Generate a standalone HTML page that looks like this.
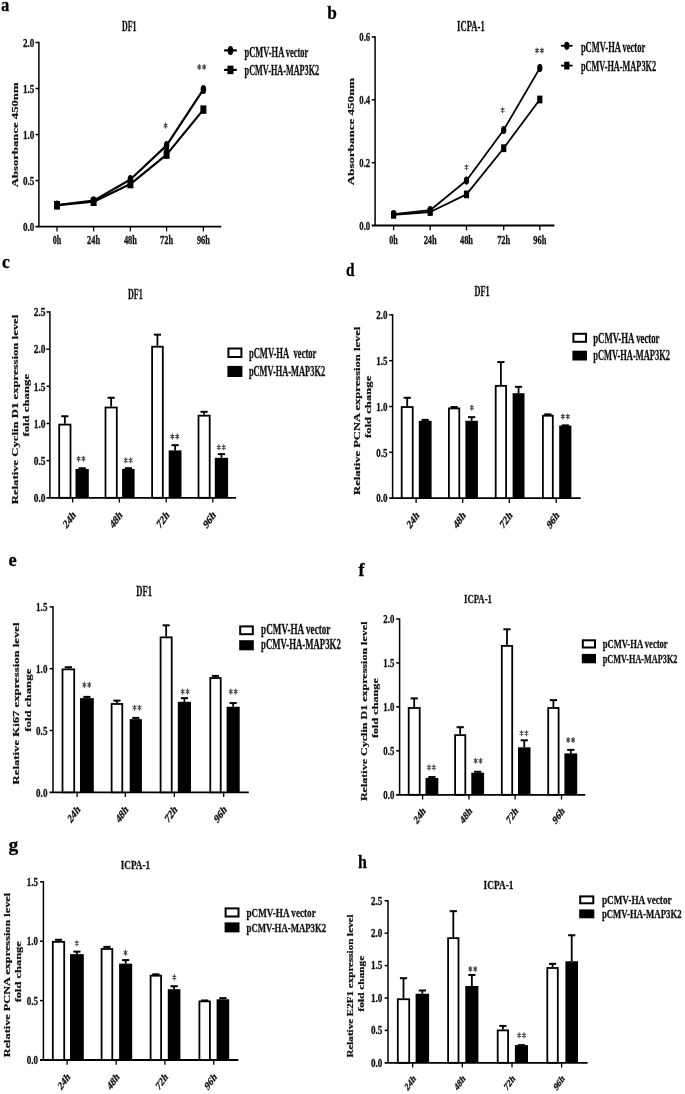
<!DOCTYPE html>
<html><head><meta charset="utf-8"><style>
html,body{margin:0;padding:0;background:#fff;}
svg{display:block;filter:grayscale(100%) blur(0.45px);}
text{font-family:"Liberation Serif", serif;font-weight:bold;stroke:#111;stroke-width:0.3px;}
</style></head><body>
<svg width="685" height="1094" viewBox="0 0 685 1094">
<rect width="685" height="1094" fill="#fff"/>
<line x1="38.90" y1="41.80" x2="38.90" y2="226.60" stroke="#000" stroke-width="1.5" stroke-linecap="butt"/>
<text x="22.90" y="230.92" font-size="13.2" text-anchor="start" fill="#111" textLength="11.40" lengthAdjust="spacingAndGlyphs">0.0</text>
<line x1="35.50" y1="180.57" x2="38.90" y2="180.57" stroke="#000" stroke-width="1.5" stroke-linecap="butt"/>
<text x="22.90" y="184.90" font-size="13.2" text-anchor="start" fill="#111" textLength="11.40" lengthAdjust="spacingAndGlyphs">0.5</text>
<line x1="35.50" y1="134.55" x2="38.90" y2="134.55" stroke="#000" stroke-width="1.5" stroke-linecap="butt"/>
<text x="22.90" y="138.87" font-size="13.2" text-anchor="start" fill="#111" textLength="11.40" lengthAdjust="spacingAndGlyphs">1.0</text>
<line x1="35.50" y1="88.53" x2="38.90" y2="88.53" stroke="#000" stroke-width="1.5" stroke-linecap="butt"/>
<text x="22.90" y="92.85" font-size="13.2" text-anchor="start" fill="#111" textLength="11.40" lengthAdjust="spacingAndGlyphs">1.5</text>
<line x1="35.50" y1="42.50" x2="38.90" y2="42.50" stroke="#000" stroke-width="1.5" stroke-linecap="butt"/>
<text x="22.90" y="46.82" font-size="13.2" text-anchor="start" fill="#111" textLength="11.40" lengthAdjust="spacingAndGlyphs">2.0</text>
<line x1="35.50" y1="226.60" x2="221.20" y2="226.60" stroke="#000" stroke-width="1.8" stroke-linecap="butt"/>
<line x1="57.00" y1="226.60" x2="57.00" y2="231.40" stroke="#000" stroke-width="1.3" stroke-linecap="butt"/>
<line x1="93.60" y1="226.60" x2="93.60" y2="231.40" stroke="#000" stroke-width="1.3" stroke-linecap="butt"/>
<line x1="130.40" y1="226.60" x2="130.40" y2="231.40" stroke="#000" stroke-width="1.3" stroke-linecap="butt"/>
<line x1="166.60" y1="226.60" x2="166.60" y2="231.40" stroke="#000" stroke-width="1.3" stroke-linecap="butt"/>
<line x1="203.40" y1="226.60" x2="203.40" y2="231.40" stroke="#000" stroke-width="1.3" stroke-linecap="butt"/>
<text x="52.75" y="244.30" font-size="12" text-anchor="start" fill="#111" textLength="8.50" lengthAdjust="spacingAndGlyphs">0h</text>
<text x="87.10" y="244.30" font-size="12" text-anchor="start" fill="#111" textLength="13.00" lengthAdjust="spacingAndGlyphs">24h</text>
<text x="123.90" y="244.30" font-size="12" text-anchor="start" fill="#111" textLength="13.00" lengthAdjust="spacingAndGlyphs">48h</text>
<text x="160.10" y="244.30" font-size="12" text-anchor="start" fill="#111" textLength="13.00" lengthAdjust="spacingAndGlyphs">72h</text>
<text x="196.90" y="244.30" font-size="12" text-anchor="start" fill="#111" textLength="13.00" lengthAdjust="spacingAndGlyphs">96h</text>
<polyline points="57.00,205.24 93.60,201.75 130.40,184.07 166.60,154.62 203.40,109.60" fill="none" stroke="#000" stroke-width="2.2" stroke-linejoin="round"/>
<polyline points="57.00,205.06 93.60,200.64 130.40,179.47 166.60,145.41 203.40,89.45" fill="none" stroke="#000" stroke-width="2.2" stroke-linejoin="round"/>
<rect x="54.00" y="200.99" width="6.00" height="8.50" fill="#000"/>
<rect x="90.60" y="197.50" width="6.00" height="8.50" fill="#000"/>
<rect x="127.40" y="179.82" width="6.00" height="8.50" fill="#000"/>
<rect x="163.60" y="150.37" width="6.00" height="8.50" fill="#000"/>
<rect x="200.40" y="105.35" width="6.00" height="8.50" fill="#000"/>
<ellipse cx="57.00" cy="205.06" rx="2.75" ry="4.50" fill="#000"/>
<ellipse cx="93.60" cy="200.64" rx="2.75" ry="4.50" fill="#000"/>
<ellipse cx="130.40" cy="179.47" rx="2.75" ry="4.50" fill="#000"/>
<ellipse cx="166.60" cy="145.41" rx="2.75" ry="4.50" fill="#000"/>
<ellipse cx="203.40" cy="89.45" rx="2.75" ry="4.50" fill="#000"/>
<rect x="164.40" y="145.41" width="4.40" height="9.20" fill="#000"/>
<line x1="224.10" y1="50.40" x2="236.80" y2="50.40" stroke="#000" stroke-width="2.2" stroke-linecap="butt"/>
<ellipse cx="230.45" cy="50.40" rx="2.75" ry="4.50" fill="#000"/>
<line x1="224.10" y1="69.90" x2="236.80" y2="69.90" stroke="#000" stroke-width="2.2" stroke-linecap="butt"/>
<rect x="227.45" y="65.65" width="6.00" height="8.50" fill="#000"/>
<text x="244.60" y="56.50" font-size="14.0" text-anchor="start" fill="#111" textLength="63.70" lengthAdjust="spacingAndGlyphs">pCMV-HA vector</text>
<text x="244.60" y="75.40" font-size="14.0" text-anchor="start" fill="#111" textLength="74.60" lengthAdjust="spacingAndGlyphs">pCMV-HA-MAP3K2</text>
<path d="M165.60,123.10L165.60,128.10M164.08,124.35L167.12,126.85M164.08,126.85L167.12,124.35" stroke="#4a4a4a" stroke-width="1.1" stroke-linecap="round" fill="none"/>
<path d="M199.25,64.50L199.25,69.50M197.73,65.75L200.77,68.25M197.73,68.25L200.77,65.75" stroke="#4a4a4a" stroke-width="1.1" stroke-linecap="round" fill="none"/>
<path d="M204.15,64.50L204.15,69.50M202.63,65.75L205.67,68.25M202.63,68.25L205.67,65.75" stroke="#4a4a4a" stroke-width="1.1" stroke-linecap="round" fill="none"/>
<text x="121.90" y="30.50" font-size="14.0" text-anchor="start" fill="#111" textLength="14.60" lengthAdjust="spacingAndGlyphs">DF1</text>
<text transform="translate(17.80,134.85) scale(0.68,1) rotate(-90)" font-size="12.65" text-anchor="middle" fill="#111" textLength="104.70" lengthAdjust="spacingAndGlyphs">Absorbance 450nm</text>
<text x="1.00" y="10.80" font-size="18" text-anchor="start" fill="#000" textLength="8.30" lengthAdjust="spacingAndGlyphs">a</text>
<line x1="375.10" y1="36.28" x2="375.10" y2="225.50" stroke="#000" stroke-width="1.5" stroke-linecap="butt"/>
<text x="359.30" y="229.91" font-size="13.463999999999999" text-anchor="start" fill="#111" textLength="10.90" lengthAdjust="spacingAndGlyphs">0.0</text>
<line x1="371.70" y1="162.66" x2="375.10" y2="162.66" stroke="#000" stroke-width="1.5" stroke-linecap="butt"/>
<text x="359.30" y="167.07" font-size="13.463999999999999" text-anchor="start" fill="#111" textLength="10.90" lengthAdjust="spacingAndGlyphs">0.2</text>
<line x1="371.70" y1="99.82" x2="375.10" y2="99.82" stroke="#000" stroke-width="1.5" stroke-linecap="butt"/>
<text x="359.30" y="104.23" font-size="13.463999999999999" text-anchor="start" fill="#111" textLength="10.90" lengthAdjust="spacingAndGlyphs">0.4</text>
<line x1="371.70" y1="36.98" x2="375.10" y2="36.98" stroke="#000" stroke-width="1.5" stroke-linecap="butt"/>
<text x="359.30" y="41.39" font-size="13.463999999999999" text-anchor="start" fill="#111" textLength="10.90" lengthAdjust="spacingAndGlyphs">0.6</text>
<line x1="371.70" y1="225.50" x2="554.50" y2="225.50" stroke="#000" stroke-width="1.8" stroke-linecap="butt"/>
<line x1="393.60" y1="225.50" x2="393.60" y2="230.30" stroke="#000" stroke-width="1.3" stroke-linecap="butt"/>
<line x1="430.20" y1="225.50" x2="430.20" y2="230.30" stroke="#000" stroke-width="1.3" stroke-linecap="butt"/>
<line x1="466.50" y1="225.50" x2="466.50" y2="230.30" stroke="#000" stroke-width="1.3" stroke-linecap="butt"/>
<line x1="503.70" y1="225.50" x2="503.70" y2="230.30" stroke="#000" stroke-width="1.3" stroke-linecap="butt"/>
<line x1="539.80" y1="225.50" x2="539.80" y2="230.30" stroke="#000" stroke-width="1.3" stroke-linecap="butt"/>
<text x="389.35" y="244.00" font-size="12" text-anchor="start" fill="#111" textLength="8.50" lengthAdjust="spacingAndGlyphs">0h</text>
<text x="423.70" y="244.00" font-size="12" text-anchor="start" fill="#111" textLength="13.00" lengthAdjust="spacingAndGlyphs">24h</text>
<text x="460.00" y="244.00" font-size="12" text-anchor="start" fill="#111" textLength="13.00" lengthAdjust="spacingAndGlyphs">48h</text>
<text x="497.20" y="244.00" font-size="12" text-anchor="start" fill="#111" textLength="13.00" lengthAdjust="spacingAndGlyphs">72h</text>
<text x="533.30" y="244.00" font-size="12" text-anchor="start" fill="#111" textLength="13.00" lengthAdjust="spacingAndGlyphs">96h</text>
<polyline points="393.60,214.82 430.20,211.99 466.50,194.39 503.70,148.21 539.80,99.51" fill="none" stroke="#000" stroke-width="1.8" stroke-linejoin="round"/>
<polyline points="393.60,214.19 430.20,210.20 466.50,180.57 503.70,129.98 539.80,68.09" fill="none" stroke="#000" stroke-width="1.8" stroke-linejoin="round"/>
<rect x="391.00" y="210.92" width="5.20" height="7.80" fill="#000"/>
<rect x="427.60" y="208.09" width="5.20" height="7.80" fill="#000"/>
<rect x="463.90" y="190.49" width="5.20" height="7.80" fill="#000"/>
<rect x="501.10" y="144.31" width="5.20" height="7.80" fill="#000"/>
<rect x="537.20" y="95.61" width="5.20" height="7.80" fill="#000"/>
<ellipse cx="393.60" cy="214.19" rx="2.65" ry="4.10" fill="#000"/>
<ellipse cx="430.20" cy="210.20" rx="2.65" ry="4.10" fill="#000"/>
<ellipse cx="466.50" cy="180.57" rx="2.65" ry="4.10" fill="#000"/>
<ellipse cx="503.70" cy="129.98" rx="2.65" ry="4.10" fill="#000"/>
<ellipse cx="539.80" cy="68.09" rx="2.65" ry="4.10" fill="#000"/>
<line x1="561.00" y1="45.80" x2="572.60" y2="45.80" stroke="#000" stroke-width="1.8" stroke-linecap="butt"/>
<ellipse cx="566.80" cy="45.80" rx="2.65" ry="4.10" fill="#000"/>
<line x1="561.00" y1="65.60" x2="572.60" y2="65.60" stroke="#000" stroke-width="1.8" stroke-linecap="butt"/>
<rect x="564.20" y="61.70" width="5.20" height="7.80" fill="#000"/>
<text x="580.90" y="51.60" font-size="14.280000000000001" text-anchor="start" fill="#111" textLength="64.30" lengthAdjust="spacingAndGlyphs">pCMV-HA vector</text>
<text x="580.90" y="71.00" font-size="14.280000000000001" text-anchor="start" fill="#111" textLength="75.20" lengthAdjust="spacingAndGlyphs">pCMV-HA-MAP3K2</text>
<path d="M466.50,164.70L466.50,169.70M464.98,165.95L468.02,168.45M464.98,168.45L468.02,165.95" stroke="#4a4a4a" stroke-width="1.1" stroke-linecap="round" fill="none"/>
<path d="M502.60,107.60L502.60,112.60M501.08,108.85L504.12,111.35M501.08,111.35L504.12,108.85" stroke="#4a4a4a" stroke-width="1.1" stroke-linecap="round" fill="none"/>
<path d="M537.05,48.00L537.05,53.00M535.53,49.25L538.57,51.75M535.53,51.75L538.57,49.25" stroke="#4a4a4a" stroke-width="1.1" stroke-linecap="round" fill="none"/>
<path d="M541.95,48.00L541.95,53.00M540.43,49.25L543.47,51.75M540.43,51.75L543.47,49.25" stroke="#4a4a4a" stroke-width="1.1" stroke-linecap="round" fill="none"/>
<text x="457.10" y="31.00" font-size="14.280000000000001" text-anchor="start" fill="#111" textLength="27.60" lengthAdjust="spacingAndGlyphs">ICPA-1</text>
<text transform="translate(354.10,131.50) scale(0.68,1) rotate(-90)" font-size="12.90" text-anchor="middle" fill="#111" textLength="107.40" lengthAdjust="spacingAndGlyphs">Absorbance 450nm</text>
<text x="327.30" y="19.00" font-size="18" text-anchor="start" fill="#000" textLength="9.60" lengthAdjust="spacingAndGlyphs">b</text>
<line x1="49.90" y1="311.30" x2="49.90" y2="497.80" stroke="#000" stroke-width="1.5" stroke-linecap="butt"/>
<text x="33.70" y="502.12" font-size="13.2" text-anchor="start" fill="#111" textLength="11.80" lengthAdjust="spacingAndGlyphs">0.0</text>
<line x1="46.50" y1="460.64" x2="49.90" y2="460.64" stroke="#000" stroke-width="1.5" stroke-linecap="butt"/>
<text x="33.70" y="464.96" font-size="13.2" text-anchor="start" fill="#111" textLength="11.80" lengthAdjust="spacingAndGlyphs">0.5</text>
<line x1="46.50" y1="423.48" x2="49.90" y2="423.48" stroke="#000" stroke-width="1.5" stroke-linecap="butt"/>
<text x="33.70" y="427.80" font-size="13.2" text-anchor="start" fill="#111" textLength="11.80" lengthAdjust="spacingAndGlyphs">1.0</text>
<line x1="46.50" y1="386.32" x2="49.90" y2="386.32" stroke="#000" stroke-width="1.5" stroke-linecap="butt"/>
<text x="33.70" y="390.64" font-size="13.2" text-anchor="start" fill="#111" textLength="11.80" lengthAdjust="spacingAndGlyphs">1.5</text>
<line x1="46.50" y1="349.16" x2="49.90" y2="349.16" stroke="#000" stroke-width="1.5" stroke-linecap="butt"/>
<text x="33.70" y="353.48" font-size="13.2" text-anchor="start" fill="#111" textLength="11.80" lengthAdjust="spacingAndGlyphs">2.0</text>
<line x1="46.50" y1="312.00" x2="49.90" y2="312.00" stroke="#000" stroke-width="1.5" stroke-linecap="butt"/>
<text x="33.70" y="316.32" font-size="13.2" text-anchor="start" fill="#111" textLength="11.80" lengthAdjust="spacingAndGlyphs">2.5</text>
<line x1="46.50" y1="497.80" x2="236.10" y2="497.80" stroke="#000" stroke-width="1.8" stroke-linecap="butt"/>
<line x1="72.70" y1="497.80" x2="72.70" y2="502.60" stroke="#000" stroke-width="1.3" stroke-linecap="butt"/>
<line x1="119.30" y1="497.80" x2="119.30" y2="502.60" stroke="#000" stroke-width="1.3" stroke-linecap="butt"/>
<line x1="166.20" y1="497.80" x2="166.20" y2="502.60" stroke="#000" stroke-width="1.3" stroke-linecap="butt"/>
<line x1="212.80" y1="497.80" x2="212.80" y2="502.60" stroke="#000" stroke-width="1.3" stroke-linecap="butt"/>
<line x1="64.85" y1="423.70" x2="64.85" y2="416.27" stroke="#000" stroke-width="1.8" stroke-linecap="butt"/>
<line x1="61.25" y1="416.27" x2="68.45" y2="416.27" stroke="#000" stroke-width="2.0" stroke-linecap="butt"/>
<line x1="82.15" y1="468.96" x2="82.15" y2="468.22" stroke="#000" stroke-width="1.8" stroke-linecap="butt"/>
<line x1="78.55" y1="468.22" x2="85.75" y2="468.22" stroke="#000" stroke-width="2.0" stroke-linecap="butt"/>
<rect x="59.20" y="424.60" width="11.30" height="73.20" fill="#fff" stroke="#000" stroke-width="1.8"/>
<rect x="75.50" y="468.96" width="13.30" height="28.84" fill="#000"/>
<line x1="111.15" y1="406.61" x2="111.15" y2="397.77" stroke="#000" stroke-width="1.8" stroke-linecap="butt"/>
<line x1="107.55" y1="397.77" x2="114.75" y2="397.77" stroke="#000" stroke-width="2.0" stroke-linecap="butt"/>
<line x1="128.35" y1="468.96" x2="128.35" y2="468.22" stroke="#000" stroke-width="1.8" stroke-linecap="butt"/>
<line x1="124.75" y1="468.22" x2="131.95" y2="468.22" stroke="#000" stroke-width="2.0" stroke-linecap="butt"/>
<rect x="105.50" y="407.51" width="11.30" height="90.29" fill="#fff" stroke="#000" stroke-width="1.8"/>
<rect x="122.10" y="468.96" width="12.50" height="28.84" fill="#000"/>
<line x1="157.45" y1="345.82" x2="157.45" y2="334.67" stroke="#000" stroke-width="1.8" stroke-linecap="butt"/>
<line x1="153.85" y1="334.67" x2="161.05" y2="334.67" stroke="#000" stroke-width="2.0" stroke-linecap="butt"/>
<line x1="175.10" y1="450.38" x2="175.10" y2="445.18" stroke="#000" stroke-width="1.8" stroke-linecap="butt"/>
<line x1="171.50" y1="445.18" x2="178.70" y2="445.18" stroke="#000" stroke-width="2.0" stroke-linecap="butt"/>
<rect x="152.10" y="346.72" width="10.70" height="151.08" fill="#fff" stroke="#000" stroke-width="1.8"/>
<rect x="168.70" y="450.38" width="12.80" height="47.42" fill="#000"/>
<line x1="204.10" y1="414.78" x2="204.10" y2="411.81" stroke="#000" stroke-width="1.8" stroke-linecap="butt"/>
<line x1="200.50" y1="411.81" x2="207.70" y2="411.81" stroke="#000" stroke-width="2.0" stroke-linecap="butt"/>
<line x1="221.45" y1="457.82" x2="221.45" y2="454.10" stroke="#000" stroke-width="1.8" stroke-linecap="butt"/>
<line x1="217.85" y1="454.10" x2="225.05" y2="454.10" stroke="#000" stroke-width="2.0" stroke-linecap="butt"/>
<rect x="198.50" y="415.68" width="11.20" height="82.12" fill="#fff" stroke="#000" stroke-width="1.8"/>
<rect x="214.80" y="457.82" width="13.30" height="39.98" fill="#000"/>
<text transform="translate(76.20,515.60) scale(0.7,1) rotate(-45)" font-size="12.5" text-anchor="end" fill="#111">24h</text>
<text transform="translate(122.80,515.60) scale(0.7,1) rotate(-45)" font-size="12.5" text-anchor="end" fill="#111">48h</text>
<text transform="translate(169.70,515.60) scale(0.7,1) rotate(-45)" font-size="12.5" text-anchor="end" fill="#111">72h</text>
<text transform="translate(216.30,515.60) scale(0.7,1) rotate(-45)" font-size="12.5" text-anchor="end" fill="#111">96h</text>
<path d="M78.55,456.20L78.55,461.20M77.03,457.45L80.07,459.95M77.03,459.95L80.07,457.45" stroke="#4a4a4a" stroke-width="1.1" stroke-linecap="round" fill="none"/>
<path d="M83.45,456.20L83.45,461.20M81.93,457.45L84.97,459.95M81.93,459.95L84.97,457.45" stroke="#4a4a4a" stroke-width="1.1" stroke-linecap="round" fill="none"/>
<path d="M125.75,457.80L125.75,462.80M124.23,459.05L127.27,461.55M124.23,461.55L127.27,459.05" stroke="#4a4a4a" stroke-width="1.1" stroke-linecap="round" fill="none"/>
<path d="M130.65,457.80L130.65,462.80M129.13,459.05L132.17,461.55M129.13,461.55L132.17,459.05" stroke="#4a4a4a" stroke-width="1.1" stroke-linecap="round" fill="none"/>
<path d="M172.35,434.00L172.35,439.00M170.83,435.25L173.87,437.75M170.83,437.75L173.87,435.25" stroke="#4a4a4a" stroke-width="1.1" stroke-linecap="round" fill="none"/>
<path d="M177.25,434.00L177.25,439.00M175.73,435.25L178.77,437.75M175.73,437.75L178.77,435.25" stroke="#4a4a4a" stroke-width="1.1" stroke-linecap="round" fill="none"/>
<path d="M218.85,444.80L218.85,449.80M217.33,446.05L220.37,448.55M217.33,448.55L220.37,446.05" stroke="#4a4a4a" stroke-width="1.1" stroke-linecap="round" fill="none"/>
<path d="M223.75,444.80L223.75,449.80M222.23,446.05L225.27,448.55M222.23,448.55L225.27,446.05" stroke="#4a4a4a" stroke-width="1.1" stroke-linecap="round" fill="none"/>
<text x="127.90" y="298.80" font-size="14.0" text-anchor="start" fill="#111" textLength="14.80" lengthAdjust="spacingAndGlyphs">DF1</text>
<rect x="228.40" y="348.50" width="13.00" height="8.50" fill="#fff" stroke="#000" stroke-width="2"/>
<rect x="227.40" y="365.90" width="15.00" height="11.10" fill="#000"/>
<text x="248.90" y="357.70" font-size="14.0" text-anchor="start" fill="#111" textLength="67.50" lengthAdjust="spacingAndGlyphs">pCMV-HA&#160; vector</text>
<text x="248.90" y="376.40" font-size="14.0" text-anchor="start" fill="#111" textLength="76.20" lengthAdjust="spacingAndGlyphs">pCMV-HA-MAP3K2</text>
<text transform="translate(18.00,409.50) scale(0.68,1) rotate(-90)" font-size="12.65" text-anchor="middle" fill="#111" textLength="189.60" lengthAdjust="spacingAndGlyphs">Relative Cyclin D1 expression level</text>
<text transform="translate(29.00,405.25) scale(0.68,1) rotate(-90)" font-size="12.65" text-anchor="middle" fill="#111" textLength="62.70" lengthAdjust="spacingAndGlyphs">fold change</text>
<text x="1.90" y="268.00" font-size="18" text-anchor="start" fill="#000" textLength="7.80" lengthAdjust="spacingAndGlyphs">c</text>
<line x1="392.60" y1="314.20" x2="392.60" y2="498.10" stroke="#000" stroke-width="1.5" stroke-linecap="butt"/>
<text x="376.30" y="502.36" font-size="13.001999999999999" text-anchor="start" fill="#111" textLength="11.20" lengthAdjust="spacingAndGlyphs">0.0</text>
<line x1="389.20" y1="452.30" x2="392.60" y2="452.30" stroke="#000" stroke-width="1.5" stroke-linecap="butt"/>
<text x="376.30" y="456.56" font-size="13.001999999999999" text-anchor="start" fill="#111" textLength="11.20" lengthAdjust="spacingAndGlyphs">0.5</text>
<line x1="389.20" y1="406.50" x2="392.60" y2="406.50" stroke="#000" stroke-width="1.5" stroke-linecap="butt"/>
<text x="376.30" y="410.76" font-size="13.001999999999999" text-anchor="start" fill="#111" textLength="11.20" lengthAdjust="spacingAndGlyphs">1.0</text>
<line x1="389.20" y1="360.70" x2="392.60" y2="360.70" stroke="#000" stroke-width="1.5" stroke-linecap="butt"/>
<text x="376.30" y="364.96" font-size="13.001999999999999" text-anchor="start" fill="#111" textLength="11.20" lengthAdjust="spacingAndGlyphs">1.5</text>
<line x1="389.20" y1="314.90" x2="392.60" y2="314.90" stroke="#000" stroke-width="1.5" stroke-linecap="butt"/>
<text x="376.30" y="319.16" font-size="13.001999999999999" text-anchor="start" fill="#111" textLength="11.20" lengthAdjust="spacingAndGlyphs">2.0</text>
<line x1="389.20" y1="498.10" x2="580.70" y2="498.10" stroke="#000" stroke-width="1.8" stroke-linecap="butt"/>
<line x1="416.10" y1="498.10" x2="416.10" y2="502.90" stroke="#000" stroke-width="1.3" stroke-linecap="butt"/>
<line x1="462.70" y1="498.10" x2="462.70" y2="502.90" stroke="#000" stroke-width="1.3" stroke-linecap="butt"/>
<line x1="509.30" y1="498.10" x2="509.30" y2="502.90" stroke="#000" stroke-width="1.3" stroke-linecap="butt"/>
<line x1="556.20" y1="498.10" x2="556.20" y2="502.90" stroke="#000" stroke-width="1.3" stroke-linecap="butt"/>
<line x1="407.20" y1="406.13" x2="407.20" y2="397.80" stroke="#000" stroke-width="1.8" stroke-linecap="butt"/>
<line x1="403.60" y1="397.80" x2="410.80" y2="397.80" stroke="#000" stroke-width="2.0" stroke-linecap="butt"/>
<line x1="425.20" y1="420.79" x2="425.20" y2="419.87" stroke="#000" stroke-width="1.8" stroke-linecap="butt"/>
<line x1="421.60" y1="419.87" x2="428.80" y2="419.87" stroke="#000" stroke-width="2.0" stroke-linecap="butt"/>
<rect x="401.70" y="407.03" width="11.00" height="91.07" fill="#fff" stroke="#000" stroke-width="1.8"/>
<rect x="418.80" y="420.79" width="12.80" height="77.31" fill="#000"/>
<line x1="450.50" y1="407.05" x2="457.70" y2="407.05" stroke="#000" stroke-width="2.0" stroke-linecap="butt"/>
<line x1="471.65" y1="420.79" x2="471.65" y2="417.13" stroke="#000" stroke-width="1.8" stroke-linecap="butt"/>
<line x1="468.05" y1="417.13" x2="475.25" y2="417.13" stroke="#000" stroke-width="2.0" stroke-linecap="butt"/>
<rect x="448.90" y="408.41" width="10.40" height="89.69" fill="#fff" stroke="#000" stroke-width="1.8"/>
<rect x="465.40" y="420.79" width="12.50" height="77.31" fill="#000"/>
<line x1="500.90" y1="384.97" x2="500.90" y2="362.07" stroke="#000" stroke-width="1.8" stroke-linecap="butt"/>
<line x1="497.30" y1="362.07" x2="504.50" y2="362.07" stroke="#000" stroke-width="2.0" stroke-linecap="butt"/>
<line x1="518.55" y1="393.22" x2="518.55" y2="386.81" stroke="#000" stroke-width="1.8" stroke-linecap="butt"/>
<line x1="514.95" y1="386.81" x2="522.15" y2="386.81" stroke="#000" stroke-width="2.0" stroke-linecap="butt"/>
<rect x="495.70" y="385.87" width="10.40" height="112.23" fill="#fff" stroke="#000" stroke-width="1.8"/>
<rect x="512.60" y="393.22" width="11.90" height="104.88" fill="#000"/>
<line x1="544.25" y1="414.38" x2="551.45" y2="414.38" stroke="#000" stroke-width="2.0" stroke-linecap="butt"/>
<line x1="561.70" y1="425.37" x2="568.90" y2="425.37" stroke="#000" stroke-width="2.0" stroke-linecap="butt"/>
<rect x="542.90" y="415.74" width="9.90" height="82.36" fill="#fff" stroke="#000" stroke-width="1.8"/>
<rect x="559.20" y="425.55" width="12.20" height="72.55" fill="#000"/>
<text transform="translate(419.60,516.00) scale(0.7,1) rotate(-45)" font-size="12.3125" text-anchor="end" fill="#111">24h</text>
<text transform="translate(466.20,516.00) scale(0.7,1) rotate(-45)" font-size="12.3125" text-anchor="end" fill="#111">48h</text>
<text transform="translate(512.80,516.00) scale(0.7,1) rotate(-45)" font-size="12.3125" text-anchor="end" fill="#111">72h</text>
<text transform="translate(559.70,516.00) scale(0.7,1) rotate(-45)" font-size="12.3125" text-anchor="end" fill="#111">96h</text>
<path d="M471.80,405.10L471.80,410.10M470.28,406.35L473.32,408.85M470.28,408.85L473.32,406.35" stroke="#4a4a4a" stroke-width="1.1" stroke-linecap="round" fill="none"/>
<path d="M562.85,414.00L562.85,419.00M561.33,415.25L564.37,417.75M561.33,417.75L564.37,415.25" stroke="#4a4a4a" stroke-width="1.1" stroke-linecap="round" fill="none"/>
<path d="M567.75,414.00L567.75,419.00M566.23,415.25L569.27,417.75M566.23,417.75L569.27,415.25" stroke="#4a4a4a" stroke-width="1.1" stroke-linecap="round" fill="none"/>
<text x="474.50" y="295.50" font-size="13.79" text-anchor="start" fill="#111" textLength="15.10" lengthAdjust="spacingAndGlyphs">DF1</text>
<rect x="573.40" y="333.80" width="12.60" height="8.00" fill="#fff" stroke="#000" stroke-width="2"/>
<rect x="572.40" y="350.70" width="14.60" height="9.80" fill="#000"/>
<text x="593.20" y="342.80" font-size="13.79" text-anchor="start" fill="#111" textLength="66.30" lengthAdjust="spacingAndGlyphs">pCMV-HA vector</text>
<text x="593.20" y="360.10" font-size="13.79" text-anchor="start" fill="#111" textLength="76.80" lengthAdjust="spacingAndGlyphs">pCMV-HA-MAP3K2</text>
<text transform="translate(360.00,410.80) scale(0.68,1) rotate(-90)" font-size="12.46" text-anchor="middle" fill="#111" textLength="168.20" lengthAdjust="spacingAndGlyphs">Relative PCNA expression level</text>
<text transform="translate(370.70,406.90) scale(0.68,1) rotate(-90)" font-size="12.46" text-anchor="middle" fill="#111" textLength="62.40" lengthAdjust="spacingAndGlyphs">fold change</text>
<text x="345.90" y="276.00" font-size="18" text-anchor="start" fill="#000" textLength="8.50" lengthAdjust="spacingAndGlyphs">d</text>
<line x1="53.00" y1="606.20" x2="53.00" y2="792.30" stroke="#000" stroke-width="1.5" stroke-linecap="butt"/>
<text x="36.10" y="796.62" font-size="13.2" text-anchor="start" fill="#111" textLength="11.30" lengthAdjust="spacingAndGlyphs">0.0</text>
<line x1="49.60" y1="730.50" x2="53.00" y2="730.50" stroke="#000" stroke-width="1.5" stroke-linecap="butt"/>
<text x="36.10" y="734.82" font-size="13.2" text-anchor="start" fill="#111" textLength="11.30" lengthAdjust="spacingAndGlyphs">0.5</text>
<line x1="49.60" y1="668.70" x2="53.00" y2="668.70" stroke="#000" stroke-width="1.5" stroke-linecap="butt"/>
<text x="36.10" y="673.02" font-size="13.2" text-anchor="start" fill="#111" textLength="11.30" lengthAdjust="spacingAndGlyphs">1.0</text>
<line x1="49.60" y1="606.90" x2="53.00" y2="606.90" stroke="#000" stroke-width="1.5" stroke-linecap="butt"/>
<text x="36.10" y="611.22" font-size="13.2" text-anchor="start" fill="#111" textLength="11.30" lengthAdjust="spacingAndGlyphs">1.5</text>
<line x1="49.60" y1="792.30" x2="248.80" y2="792.30" stroke="#000" stroke-width="1.8" stroke-linecap="butt"/>
<line x1="77.10" y1="792.30" x2="77.10" y2="797.10" stroke="#000" stroke-width="1.3" stroke-linecap="butt"/>
<line x1="125.30" y1="792.30" x2="125.30" y2="797.10" stroke="#000" stroke-width="1.3" stroke-linecap="butt"/>
<line x1="174.30" y1="792.30" x2="174.30" y2="797.10" stroke="#000" stroke-width="1.3" stroke-linecap="butt"/>
<line x1="223.70" y1="792.30" x2="223.70" y2="797.10" stroke="#000" stroke-width="1.3" stroke-linecap="butt"/>
<line x1="68.35" y1="668.45" x2="68.35" y2="667.22" stroke="#000" stroke-width="1.8" stroke-linecap="butt"/>
<line x1="64.75" y1="667.22" x2="71.95" y2="667.22" stroke="#000" stroke-width="2.0" stroke-linecap="butt"/>
<line x1="86.90" y1="698.12" x2="86.90" y2="696.88" stroke="#000" stroke-width="1.8" stroke-linecap="butt"/>
<line x1="83.30" y1="696.88" x2="90.50" y2="696.88" stroke="#000" stroke-width="2.0" stroke-linecap="butt"/>
<rect x="62.50" y="669.35" width="11.70" height="122.95" fill="#fff" stroke="#000" stroke-width="1.8"/>
<rect x="80.00" y="698.12" width="13.80" height="94.18" fill="#000"/>
<line x1="116.95" y1="703.06" x2="116.95" y2="700.59" stroke="#000" stroke-width="1.8" stroke-linecap="butt"/>
<line x1="113.35" y1="700.59" x2="120.55" y2="700.59" stroke="#000" stroke-width="2.0" stroke-linecap="butt"/>
<line x1="135.80" y1="719.13" x2="135.80" y2="717.89" stroke="#000" stroke-width="1.8" stroke-linecap="butt"/>
<line x1="132.20" y1="717.89" x2="139.40" y2="717.89" stroke="#000" stroke-width="2.0" stroke-linecap="butt"/>
<rect x="111.60" y="703.96" width="10.70" height="88.34" fill="#fff" stroke="#000" stroke-width="1.8"/>
<rect x="129.70" y="719.13" width="12.20" height="73.17" fill="#000"/>
<line x1="166.15" y1="636.44" x2="166.15" y2="625.32" stroke="#000" stroke-width="1.8" stroke-linecap="butt"/>
<line x1="162.55" y1="625.32" x2="169.75" y2="625.32" stroke="#000" stroke-width="2.0" stroke-linecap="butt"/>
<line x1="184.40" y1="701.82" x2="184.40" y2="698.12" stroke="#000" stroke-width="1.8" stroke-linecap="butt"/>
<line x1="180.80" y1="698.12" x2="188.00" y2="698.12" stroke="#000" stroke-width="2.0" stroke-linecap="butt"/>
<rect x="160.60" y="637.34" width="11.10" height="154.96" fill="#fff" stroke="#000" stroke-width="1.8"/>
<rect x="177.80" y="701.82" width="13.20" height="90.48" fill="#000"/>
<line x1="215.50" y1="677.10" x2="215.50" y2="675.87" stroke="#000" stroke-width="1.8" stroke-linecap="butt"/>
<line x1="211.90" y1="675.87" x2="219.10" y2="675.87" stroke="#000" stroke-width="2.0" stroke-linecap="butt"/>
<line x1="233.15" y1="706.77" x2="233.15" y2="703.06" stroke="#000" stroke-width="1.8" stroke-linecap="butt"/>
<line x1="229.55" y1="703.06" x2="236.75" y2="703.06" stroke="#000" stroke-width="2.0" stroke-linecap="butt"/>
<rect x="210.30" y="678.00" width="10.40" height="114.30" fill="#fff" stroke="#000" stroke-width="1.8"/>
<rect x="226.60" y="706.77" width="13.10" height="85.53" fill="#000"/>
<text transform="translate(80.60,810.10) scale(0.7,1) rotate(-45)" font-size="12.5" text-anchor="end" fill="#111">24h</text>
<text transform="translate(128.80,810.10) scale(0.7,1) rotate(-45)" font-size="12.5" text-anchor="end" fill="#111">48h</text>
<text transform="translate(177.80,810.10) scale(0.7,1) rotate(-45)" font-size="12.5" text-anchor="end" fill="#111">72h</text>
<text transform="translate(227.20,810.10) scale(0.7,1) rotate(-45)" font-size="12.5" text-anchor="end" fill="#111">96h</text>
<path d="M84.35,682.40L84.35,687.40M82.83,683.65L85.87,686.15M82.83,686.15L85.87,683.65" stroke="#4a4a4a" stroke-width="1.1" stroke-linecap="round" fill="none"/>
<path d="M89.25,682.40L89.25,687.40M87.73,683.65L90.77,686.15M87.73,686.15L90.77,683.65" stroke="#4a4a4a" stroke-width="1.1" stroke-linecap="round" fill="none"/>
<path d="M134.55,705.20L134.55,710.20M133.03,706.45L136.07,708.95M133.03,708.95L136.07,706.45" stroke="#4a4a4a" stroke-width="1.1" stroke-linecap="round" fill="none"/>
<path d="M139.45,705.20L139.45,710.20M137.93,706.45L140.97,708.95M137.93,708.95L140.97,706.45" stroke="#4a4a4a" stroke-width="1.1" stroke-linecap="round" fill="none"/>
<path d="M182.65,689.10L182.65,694.10M181.13,690.35L184.17,692.85M181.13,692.85L184.17,690.35" stroke="#4a4a4a" stroke-width="1.1" stroke-linecap="round" fill="none"/>
<path d="M187.55,689.10L187.55,694.10M186.03,690.35L189.07,692.85M186.03,692.85L189.07,690.35" stroke="#4a4a4a" stroke-width="1.1" stroke-linecap="round" fill="none"/>
<path d="M230.85,689.10L230.85,694.10M229.33,690.35L232.37,692.85M229.33,692.85L232.37,690.35" stroke="#4a4a4a" stroke-width="1.1" stroke-linecap="round" fill="none"/>
<path d="M235.75,689.10L235.75,694.10M234.23,690.35L237.27,692.85M234.23,692.85L237.27,690.35" stroke="#4a4a4a" stroke-width="1.1" stroke-linecap="round" fill="none"/>
<text x="136.20" y="595.50" font-size="14.0" text-anchor="start" fill="#111" textLength="15.80" lengthAdjust="spacingAndGlyphs">DF1</text>
<rect x="240.20" y="626.40" width="12.60" height="7.80" fill="#fff" stroke="#000" stroke-width="2"/>
<rect x="239.20" y="640.20" width="14.60" height="10.10" fill="#000"/>
<text x="261.10" y="634.30" font-size="14.0" text-anchor="start" fill="#111" textLength="69.30" lengthAdjust="spacingAndGlyphs">pCMV-HA vector</text>
<text x="261.10" y="649.00" font-size="14.0" text-anchor="start" fill="#111" textLength="79.70" lengthAdjust="spacingAndGlyphs">pCMV-HA-MAP3K2</text>
<text transform="translate(18.70,703.45) scale(0.68,1) rotate(-90)" font-size="12.65" text-anchor="middle" fill="#111" textLength="161.90" lengthAdjust="spacingAndGlyphs">Relative Ki67 expression level</text>
<text transform="translate(30.60,700.20) scale(0.68,1) rotate(-90)" font-size="12.65" text-anchor="middle" fill="#111" textLength="63.20" lengthAdjust="spacingAndGlyphs">fold change</text>
<text x="8.60" y="565.50" font-size="18" text-anchor="start" fill="#000" textLength="8.20" lengthAdjust="spacingAndGlyphs">e</text>
<line x1="399.60" y1="618.30" x2="399.60" y2="794.80" stroke="#000" stroke-width="1.5" stroke-linecap="butt"/>
<text x="383.30" y="798.91" font-size="12.54" text-anchor="start" fill="#111" textLength="11.00" lengthAdjust="spacingAndGlyphs">0.0</text>
<line x1="396.20" y1="750.85" x2="399.60" y2="750.85" stroke="#000" stroke-width="1.5" stroke-linecap="butt"/>
<text x="383.30" y="754.96" font-size="12.54" text-anchor="start" fill="#111" textLength="11.00" lengthAdjust="spacingAndGlyphs">0.5</text>
<line x1="396.20" y1="706.90" x2="399.60" y2="706.90" stroke="#000" stroke-width="1.5" stroke-linecap="butt"/>
<text x="383.30" y="711.01" font-size="12.54" text-anchor="start" fill="#111" textLength="11.00" lengthAdjust="spacingAndGlyphs">1.0</text>
<line x1="396.20" y1="662.95" x2="399.60" y2="662.95" stroke="#000" stroke-width="1.5" stroke-linecap="butt"/>
<text x="383.30" y="667.06" font-size="12.54" text-anchor="start" fill="#111" textLength="11.00" lengthAdjust="spacingAndGlyphs">1.5</text>
<line x1="396.20" y1="619.00" x2="399.60" y2="619.00" stroke="#000" stroke-width="1.5" stroke-linecap="butt"/>
<text x="383.30" y="623.11" font-size="12.54" text-anchor="start" fill="#111" textLength="11.00" lengthAdjust="spacingAndGlyphs">2.0</text>
<line x1="396.20" y1="794.80" x2="585.20" y2="794.80" stroke="#000" stroke-width="1.8" stroke-linecap="butt"/>
<line x1="422.60" y1="794.80" x2="422.60" y2="799.60" stroke="#000" stroke-width="1.3" stroke-linecap="butt"/>
<line x1="469.00" y1="794.80" x2="469.00" y2="799.60" stroke="#000" stroke-width="1.3" stroke-linecap="butt"/>
<line x1="515.10" y1="794.80" x2="515.10" y2="799.60" stroke="#000" stroke-width="1.3" stroke-linecap="butt"/>
<line x1="561.50" y1="794.80" x2="561.50" y2="799.60" stroke="#000" stroke-width="1.3" stroke-linecap="butt"/>
<line x1="414.20" y1="707.08" x2="414.20" y2="698.37" stroke="#000" stroke-width="1.8" stroke-linecap="butt"/>
<line x1="410.60" y1="698.37" x2="417.80" y2="698.37" stroke="#000" stroke-width="2.0" stroke-linecap="butt"/>
<line x1="431.90" y1="777.92" x2="431.90" y2="777.04" stroke="#000" stroke-width="1.8" stroke-linecap="butt"/>
<line x1="428.30" y1="777.04" x2="435.50" y2="777.04" stroke="#000" stroke-width="2.0" stroke-linecap="butt"/>
<rect x="408.70" y="707.98" width="11.00" height="86.82" fill="#fff" stroke="#000" stroke-width="1.8"/>
<rect x="425.50" y="777.92" width="12.80" height="16.88" fill="#000"/>
<line x1="460.20" y1="734.24" x2="460.20" y2="727.20" stroke="#000" stroke-width="1.8" stroke-linecap="butt"/>
<line x1="456.60" y1="727.20" x2="463.80" y2="727.20" stroke="#000" stroke-width="2.0" stroke-linecap="butt"/>
<line x1="477.70" y1="772.65" x2="477.70" y2="771.77" stroke="#000" stroke-width="1.8" stroke-linecap="butt"/>
<line x1="474.10" y1="771.77" x2="481.30" y2="771.77" stroke="#000" stroke-width="2.0" stroke-linecap="butt"/>
<rect x="455.10" y="735.14" width="10.20" height="59.66" fill="#fff" stroke="#000" stroke-width="1.8"/>
<rect x="471.30" y="772.65" width="12.80" height="22.15" fill="#000"/>
<line x1="507.00" y1="645.02" x2="507.00" y2="629.28" stroke="#000" stroke-width="1.8" stroke-linecap="butt"/>
<line x1="503.40" y1="629.28" x2="510.60" y2="629.28" stroke="#000" stroke-width="2.0" stroke-linecap="butt"/>
<line x1="524.25" y1="747.33" x2="524.25" y2="740.30" stroke="#000" stroke-width="1.8" stroke-linecap="butt"/>
<line x1="520.65" y1="740.30" x2="527.85" y2="740.30" stroke="#000" stroke-width="2.0" stroke-linecap="butt"/>
<rect x="501.80" y="645.92" width="10.40" height="148.88" fill="#fff" stroke="#000" stroke-width="1.8"/>
<rect x="518.00" y="747.33" width="12.50" height="47.47" fill="#000"/>
<line x1="553.40" y1="707.08" x2="553.40" y2="700.13" stroke="#000" stroke-width="1.8" stroke-linecap="butt"/>
<line x1="549.80" y1="700.13" x2="557.00" y2="700.13" stroke="#000" stroke-width="2.0" stroke-linecap="butt"/>
<line x1="570.80" y1="753.40" x2="570.80" y2="749.88" stroke="#000" stroke-width="1.8" stroke-linecap="butt"/>
<line x1="567.20" y1="749.88" x2="574.40" y2="749.88" stroke="#000" stroke-width="2.0" stroke-linecap="butt"/>
<rect x="548.20" y="707.98" width="10.40" height="86.82" fill="#fff" stroke="#000" stroke-width="1.8"/>
<rect x="564.40" y="753.40" width="12.80" height="41.40" fill="#000"/>
<text transform="translate(426.10,811.60) scale(0.7,1) rotate(-45)" font-size="11.875" text-anchor="end" fill="#111">24h</text>
<text transform="translate(472.50,811.60) scale(0.7,1) rotate(-45)" font-size="11.875" text-anchor="end" fill="#111">48h</text>
<text transform="translate(518.60,811.60) scale(0.7,1) rotate(-45)" font-size="11.875" text-anchor="end" fill="#111">72h</text>
<text transform="translate(565.00,811.60) scale(0.7,1) rotate(-45)" font-size="11.875" text-anchor="end" fill="#111">96h</text>
<path d="M428.95,764.90L428.95,769.90M427.43,766.15L430.47,768.65M427.43,768.65L430.47,766.15" stroke="#4a4a4a" stroke-width="1.1" stroke-linecap="round" fill="none"/>
<path d="M433.85,764.90L433.85,769.90M432.33,766.15L435.37,768.65M432.33,768.65L435.37,766.15" stroke="#4a4a4a" stroke-width="1.1" stroke-linecap="round" fill="none"/>
<path d="M475.65,758.30L475.65,763.30M474.13,759.55L477.17,762.05M474.13,762.05L477.17,759.55" stroke="#4a4a4a" stroke-width="1.1" stroke-linecap="round" fill="none"/>
<path d="M480.55,758.30L480.55,763.30M479.03,759.55L482.07,762.05M479.03,762.05L482.07,759.55" stroke="#4a4a4a" stroke-width="1.1" stroke-linecap="round" fill="none"/>
<path d="M521.55,730.70L521.55,735.70M520.03,731.95L523.07,734.45M520.03,734.45L523.07,731.95" stroke="#4a4a4a" stroke-width="1.1" stroke-linecap="round" fill="none"/>
<path d="M526.45,730.70L526.45,735.70M524.93,731.95L527.97,734.45M524.93,734.45L527.97,731.95" stroke="#4a4a4a" stroke-width="1.1" stroke-linecap="round" fill="none"/>
<path d="M568.15,737.50L568.15,742.50M566.63,738.75L569.67,741.25M566.63,741.25L569.67,738.75" stroke="#4a4a4a" stroke-width="1.1" stroke-linecap="round" fill="none"/>
<path d="M573.05,737.50L573.05,742.50M571.53,738.75L574.57,741.25M571.53,741.25L574.57,738.75" stroke="#4a4a4a" stroke-width="1.1" stroke-linecap="round" fill="none"/>
<text x="464.00" y="602.50" font-size="13.299999999999999" text-anchor="start" fill="#111" textLength="27.90" lengthAdjust="spacingAndGlyphs">ICPA-1</text>
<rect x="582.80" y="640.30" width="12.20" height="7.20" fill="#fff" stroke="#000" stroke-width="2"/>
<rect x="581.80" y="653.90" width="14.20" height="9.40" fill="#000"/>
<text x="602.70" y="648.20" font-size="13.299999999999999" text-anchor="start" fill="#111" textLength="65.00" lengthAdjust="spacingAndGlyphs">pCMV-HA vector</text>
<text x="602.70" y="662.80" font-size="13.299999999999999" text-anchor="start" fill="#111" textLength="74.70" lengthAdjust="spacingAndGlyphs">pCMV-HA-MAP3K2</text>
<text transform="translate(366.90,711.30) scale(0.68,1) rotate(-90)" font-size="12.02" text-anchor="middle" fill="#111" textLength="179.60" lengthAdjust="spacingAndGlyphs">Relative Cyclin D1 expression level</text>
<text transform="translate(378.20,708.15) scale(0.68,1) rotate(-90)" font-size="12.02" text-anchor="middle" fill="#111" textLength="59.90" lengthAdjust="spacingAndGlyphs">fold change</text>
<text x="358.50" y="575.50" font-size="18" text-anchor="start" fill="#000" textLength="6.10" lengthAdjust="spacingAndGlyphs">f</text>
<line x1="43.40" y1="881.10" x2="43.40" y2="1060.00" stroke="#000" stroke-width="1.5" stroke-linecap="butt"/>
<text x="26.70" y="1064.17" font-size="12.738" text-anchor="start" fill="#111" textLength="11.20" lengthAdjust="spacingAndGlyphs">0.0</text>
<line x1="40.00" y1="1000.60" x2="43.40" y2="1000.60" stroke="#000" stroke-width="1.5" stroke-linecap="butt"/>
<text x="26.70" y="1004.77" font-size="12.738" text-anchor="start" fill="#111" textLength="11.20" lengthAdjust="spacingAndGlyphs">0.5</text>
<line x1="40.00" y1="941.20" x2="43.40" y2="941.20" stroke="#000" stroke-width="1.5" stroke-linecap="butt"/>
<text x="26.70" y="945.37" font-size="12.738" text-anchor="start" fill="#111" textLength="11.20" lengthAdjust="spacingAndGlyphs">1.0</text>
<line x1="40.00" y1="881.80" x2="43.40" y2="881.80" stroke="#000" stroke-width="1.5" stroke-linecap="butt"/>
<text x="26.70" y="885.97" font-size="12.738" text-anchor="start" fill="#111" textLength="11.20" lengthAdjust="spacingAndGlyphs">1.5</text>
<line x1="40.00" y1="1060.00" x2="238.30" y2="1060.00" stroke="#000" stroke-width="1.8" stroke-linecap="butt"/>
<line x1="67.10" y1="1060.00" x2="67.10" y2="1064.80" stroke="#000" stroke-width="1.3" stroke-linecap="butt"/>
<line x1="116.20" y1="1060.00" x2="116.20" y2="1064.80" stroke="#000" stroke-width="1.3" stroke-linecap="butt"/>
<line x1="164.90" y1="1060.00" x2="164.90" y2="1064.80" stroke="#000" stroke-width="1.3" stroke-linecap="butt"/>
<line x1="213.70" y1="1060.00" x2="213.70" y2="1064.80" stroke="#000" stroke-width="1.3" stroke-linecap="butt"/>
<line x1="58.50" y1="940.96" x2="58.50" y2="939.77" stroke="#000" stroke-width="1.8" stroke-linecap="butt"/>
<line x1="54.90" y1="939.77" x2="62.10" y2="939.77" stroke="#000" stroke-width="2.0" stroke-linecap="butt"/>
<line x1="76.90" y1="954.15" x2="76.90" y2="951.65" stroke="#000" stroke-width="1.8" stroke-linecap="butt"/>
<line x1="73.30" y1="951.65" x2="80.50" y2="951.65" stroke="#000" stroke-width="2.0" stroke-linecap="butt"/>
<rect x="52.80" y="941.86" width="11.40" height="118.14" fill="#fff" stroke="#000" stroke-width="1.8"/>
<rect x="70.00" y="954.15" width="13.80" height="105.85" fill="#000"/>
<line x1="106.95" y1="948.09" x2="106.95" y2="946.90" stroke="#000" stroke-width="1.8" stroke-linecap="butt"/>
<line x1="103.35" y1="946.90" x2="110.55" y2="946.90" stroke="#000" stroke-width="2.0" stroke-linecap="butt"/>
<line x1="125.65" y1="963.65" x2="125.65" y2="960.09" stroke="#000" stroke-width="1.8" stroke-linecap="butt"/>
<line x1="122.05" y1="960.09" x2="129.25" y2="960.09" stroke="#000" stroke-width="2.0" stroke-linecap="butt"/>
<rect x="101.60" y="948.99" width="10.70" height="111.01" fill="#fff" stroke="#000" stroke-width="1.8"/>
<rect x="119.10" y="963.65" width="13.10" height="96.35" fill="#000"/>
<line x1="152.25" y1="974.35" x2="159.45" y2="974.35" stroke="#000" stroke-width="2.0" stroke-linecap="butt"/>
<line x1="174.10" y1="989.20" x2="174.10" y2="986.23" stroke="#000" stroke-width="1.8" stroke-linecap="butt"/>
<line x1="170.50" y1="986.23" x2="177.70" y2="986.23" stroke="#000" stroke-width="2.0" stroke-linecap="butt"/>
<rect x="150.60" y="975.72" width="10.50" height="84.28" fill="#fff" stroke="#000" stroke-width="1.8"/>
<rect x="167.80" y="989.20" width="12.60" height="70.80" fill="#000"/>
<line x1="201.05" y1="1000.48" x2="208.25" y2="1000.48" stroke="#000" stroke-width="2.0" stroke-linecap="butt"/>
<line x1="222.90" y1="999.29" x2="222.90" y2="998.11" stroke="#000" stroke-width="1.8" stroke-linecap="butt"/>
<line x1="219.30" y1="998.11" x2="226.50" y2="998.11" stroke="#000" stroke-width="2.0" stroke-linecap="butt"/>
<rect x="199.40" y="1001.38" width="10.50" height="58.62" fill="#fff" stroke="#000" stroke-width="1.8"/>
<rect x="216.60" y="999.29" width="12.60" height="60.71" fill="#000"/>
<text transform="translate(70.60,1077.50) scale(0.7,1) rotate(-45)" font-size="12.0625" text-anchor="end" fill="#111">24h</text>
<text transform="translate(119.70,1077.50) scale(0.7,1) rotate(-45)" font-size="12.0625" text-anchor="end" fill="#111">48h</text>
<text transform="translate(168.40,1077.50) scale(0.7,1) rotate(-45)" font-size="12.0625" text-anchor="end" fill="#111">72h</text>
<text transform="translate(217.20,1077.50) scale(0.7,1) rotate(-45)" font-size="12.0625" text-anchor="end" fill="#111">96h</text>
<path d="M76.80,940.70L76.80,945.70M75.28,941.95L78.32,944.45M75.28,944.45L78.32,941.95" stroke="#4a4a4a" stroke-width="1.1" stroke-linecap="round" fill="none"/>
<path d="M125.50,950.30L125.50,955.30M123.98,951.55L127.02,954.05M123.98,954.05L127.02,951.55" stroke="#4a4a4a" stroke-width="1.1" stroke-linecap="round" fill="none"/>
<path d="M174.30,974.90L174.30,979.90M172.78,976.15L175.82,978.65M172.78,978.65L175.82,976.15" stroke="#4a4a4a" stroke-width="1.1" stroke-linecap="round" fill="none"/>
<text x="120.80" y="869.00" font-size="13.51" text-anchor="start" fill="#111" textLength="29.30" lengthAdjust="spacingAndGlyphs">ICPA-1</text>
<rect x="225.60" y="908.40" width="12.90" height="8.10" fill="#fff" stroke="#000" stroke-width="2"/>
<rect x="224.60" y="922.40" width="14.90" height="10.00" fill="#000"/>
<text x="246.50" y="917.00" font-size="13.51" text-anchor="start" fill="#111" textLength="69.20" lengthAdjust="spacingAndGlyphs">pCMV-HA vector</text>
<text x="246.50" y="931.90" font-size="13.51" text-anchor="start" fill="#111" textLength="79.70" lengthAdjust="spacingAndGlyphs">pCMV-HA-MAP3K2</text>
<text transform="translate(9.60,975.00) scale(0.68,1) rotate(-90)" font-size="12.21" text-anchor="middle" fill="#111" textLength="164.40" lengthAdjust="spacingAndGlyphs">Relative PCNA expression level</text>
<text transform="translate(20.70,971.75) scale(0.68,1) rotate(-90)" font-size="12.21" text-anchor="middle" fill="#111" textLength="61.10" lengthAdjust="spacingAndGlyphs">fold change</text>
<text x="8.40" y="851.00" font-size="18" text-anchor="start" fill="#000" textLength="9.70" lengthAdjust="spacingAndGlyphs">g</text>
<line x1="388.00" y1="900.10" x2="388.00" y2="1062.80" stroke="#000" stroke-width="1.5" stroke-linecap="butt"/>
<text x="370.90" y="1066.60" font-size="11.616" text-anchor="start" fill="#111" textLength="11.40" lengthAdjust="spacingAndGlyphs">0.0</text>
<line x1="384.60" y1="1030.40" x2="388.00" y2="1030.40" stroke="#000" stroke-width="1.5" stroke-linecap="butt"/>
<text x="370.90" y="1034.20" font-size="11.616" text-anchor="start" fill="#111" textLength="11.40" lengthAdjust="spacingAndGlyphs">0.5</text>
<line x1="384.60" y1="998.00" x2="388.00" y2="998.00" stroke="#000" stroke-width="1.5" stroke-linecap="butt"/>
<text x="370.90" y="1001.80" font-size="11.616" text-anchor="start" fill="#111" textLength="11.40" lengthAdjust="spacingAndGlyphs">1.0</text>
<line x1="384.60" y1="965.60" x2="388.00" y2="965.60" stroke="#000" stroke-width="1.5" stroke-linecap="butt"/>
<text x="370.90" y="969.40" font-size="11.616" text-anchor="start" fill="#111" textLength="11.40" lengthAdjust="spacingAndGlyphs">1.5</text>
<line x1="384.60" y1="933.20" x2="388.00" y2="933.20" stroke="#000" stroke-width="1.5" stroke-linecap="butt"/>
<text x="370.90" y="937.00" font-size="11.616" text-anchor="start" fill="#111" textLength="11.40" lengthAdjust="spacingAndGlyphs">2.0</text>
<line x1="384.60" y1="900.80" x2="388.00" y2="900.80" stroke="#000" stroke-width="1.5" stroke-linecap="butt"/>
<text x="370.90" y="904.60" font-size="11.616" text-anchor="start" fill="#111" textLength="11.40" lengthAdjust="spacingAndGlyphs">2.5</text>
<line x1="384.60" y1="1062.80" x2="587.60" y2="1062.80" stroke="#000" stroke-width="1.8" stroke-linecap="butt"/>
<line x1="412.70" y1="1062.80" x2="412.70" y2="1067.60" stroke="#000" stroke-width="1.3" stroke-linecap="butt"/>
<line x1="462.30" y1="1062.80" x2="462.30" y2="1067.60" stroke="#000" stroke-width="1.3" stroke-linecap="butt"/>
<line x1="512.00" y1="1062.80" x2="512.00" y2="1067.60" stroke="#000" stroke-width="1.3" stroke-linecap="butt"/>
<line x1="561.60" y1="1062.80" x2="561.60" y2="1067.60" stroke="#000" stroke-width="1.3" stroke-linecap="butt"/>
<line x1="403.50" y1="998.32" x2="403.50" y2="978.17" stroke="#000" stroke-width="1.8" stroke-linecap="butt"/>
<line x1="399.90" y1="978.17" x2="407.10" y2="978.17" stroke="#000" stroke-width="2.0" stroke-linecap="butt"/>
<line x1="422.35" y1="993.72" x2="422.35" y2="990.48" stroke="#000" stroke-width="1.8" stroke-linecap="butt"/>
<line x1="418.75" y1="990.48" x2="425.95" y2="990.48" stroke="#000" stroke-width="2.0" stroke-linecap="butt"/>
<rect x="397.80" y="999.22" width="11.40" height="63.58" fill="#fff" stroke="#000" stroke-width="1.8"/>
<rect x="415.60" y="993.72" width="13.50" height="69.08" fill="#000"/>
<line x1="453.30" y1="937.22" x2="453.30" y2="911.17" stroke="#000" stroke-width="1.8" stroke-linecap="butt"/>
<line x1="449.70" y1="911.17" x2="456.90" y2="911.17" stroke="#000" stroke-width="2.0" stroke-linecap="butt"/>
<line x1="471.85" y1="985.95" x2="471.85" y2="974.93" stroke="#000" stroke-width="1.8" stroke-linecap="butt"/>
<line x1="468.25" y1="974.93" x2="475.45" y2="974.93" stroke="#000" stroke-width="2.0" stroke-linecap="butt"/>
<rect x="448.10" y="938.12" width="10.40" height="124.68" fill="#fff" stroke="#000" stroke-width="1.8"/>
<rect x="465.30" y="985.95" width="13.10" height="76.85" fill="#000"/>
<line x1="502.90" y1="1029.49" x2="502.90" y2="1025.93" stroke="#000" stroke-width="1.8" stroke-linecap="butt"/>
<line x1="499.30" y1="1025.93" x2="506.50" y2="1025.93" stroke="#000" stroke-width="2.0" stroke-linecap="butt"/>
<line x1="517.85" y1="1045.11" x2="525.05" y2="1045.11" stroke="#000" stroke-width="2.0" stroke-linecap="butt"/>
<rect x="497.70" y="1030.39" width="10.40" height="32.41" fill="#fff" stroke="#000" stroke-width="1.8"/>
<rect x="514.90" y="1045.11" width="13.10" height="17.69" fill="#000"/>
<line x1="552.55" y1="967.09" x2="552.55" y2="963.85" stroke="#000" stroke-width="1.8" stroke-linecap="butt"/>
<line x1="548.95" y1="963.85" x2="556.15" y2="963.85" stroke="#000" stroke-width="2.0" stroke-linecap="butt"/>
<line x1="571.70" y1="961.26" x2="571.70" y2="935.27" stroke="#000" stroke-width="1.8" stroke-linecap="butt"/>
<line x1="568.10" y1="935.27" x2="575.30" y2="935.27" stroke="#000" stroke-width="2.0" stroke-linecap="butt"/>
<rect x="547.30" y="967.99" width="10.50" height="94.81" fill="#fff" stroke="#000" stroke-width="1.8"/>
<rect x="565.40" y="961.26" width="12.60" height="101.54" fill="#000"/>
<text transform="translate(416.20,1079.20) scale(0.7,1) rotate(-45)" font-size="11.0" text-anchor="end" fill="#111">24h</text>
<text transform="translate(465.80,1079.20) scale(0.7,1) rotate(-45)" font-size="11.0" text-anchor="end" fill="#111">48h</text>
<text transform="translate(515.50,1079.20) scale(0.7,1) rotate(-45)" font-size="11.0" text-anchor="end" fill="#111">72h</text>
<text transform="translate(565.10,1079.20) scale(0.7,1) rotate(-45)" font-size="11.0" text-anchor="end" fill="#111">96h</text>
<path d="M470.35,966.50L470.35,971.50M468.83,967.75L471.87,970.25M468.83,970.25L471.87,967.75" stroke="#4a4a4a" stroke-width="1.1" stroke-linecap="round" fill="none"/>
<path d="M475.25,966.50L475.25,971.50M473.73,967.75L476.77,970.25M473.73,970.25L476.77,967.75" stroke="#4a4a4a" stroke-width="1.1" stroke-linecap="round" fill="none"/>
<path d="M519.15,1032.80L519.15,1037.80M517.63,1034.05L520.67,1036.55M517.63,1036.55L520.67,1034.05" stroke="#4a4a4a" stroke-width="1.1" stroke-linecap="round" fill="none"/>
<path d="M524.05,1032.80L524.05,1037.80M522.53,1034.05L525.57,1036.55M522.53,1036.55L525.57,1034.05" stroke="#4a4a4a" stroke-width="1.1" stroke-linecap="round" fill="none"/>
<text x="483.60" y="888.50" font-size="12.32" text-anchor="start" fill="#111" textLength="29.80" lengthAdjust="spacingAndGlyphs">ICPA-1</text>
<rect x="580.20" y="896.40" width="13.10" height="6.90" fill="#fff" stroke="#000" stroke-width="2"/>
<rect x="579.20" y="909.40" width="15.10" height="8.90" fill="#000"/>
<text x="601.90" y="904.30" font-size="12.32" text-anchor="start" fill="#111" textLength="69.70" lengthAdjust="spacingAndGlyphs">pCMV-HA vector</text>
<text x="601.90" y="917.80" font-size="12.32" text-anchor="start" fill="#111" textLength="79.70" lengthAdjust="spacingAndGlyphs">pCMV-HA-MAP3K2</text>
<text transform="translate(353.10,986.00) scale(0.68,1) rotate(-90)" font-size="11.13" text-anchor="middle" fill="#111" textLength="143.20" lengthAdjust="spacingAndGlyphs">Relative E2F1 expression level</text>
<text transform="translate(364.30,983.55) scale(0.68,1) rotate(-90)" font-size="11.13" text-anchor="middle" fill="#111" textLength="55.70" lengthAdjust="spacingAndGlyphs">fold change</text>
<text x="357.90" y="868.00" font-size="18" text-anchor="start" fill="#000" textLength="8.90" lengthAdjust="spacingAndGlyphs">h</text>
</svg></body></html>
